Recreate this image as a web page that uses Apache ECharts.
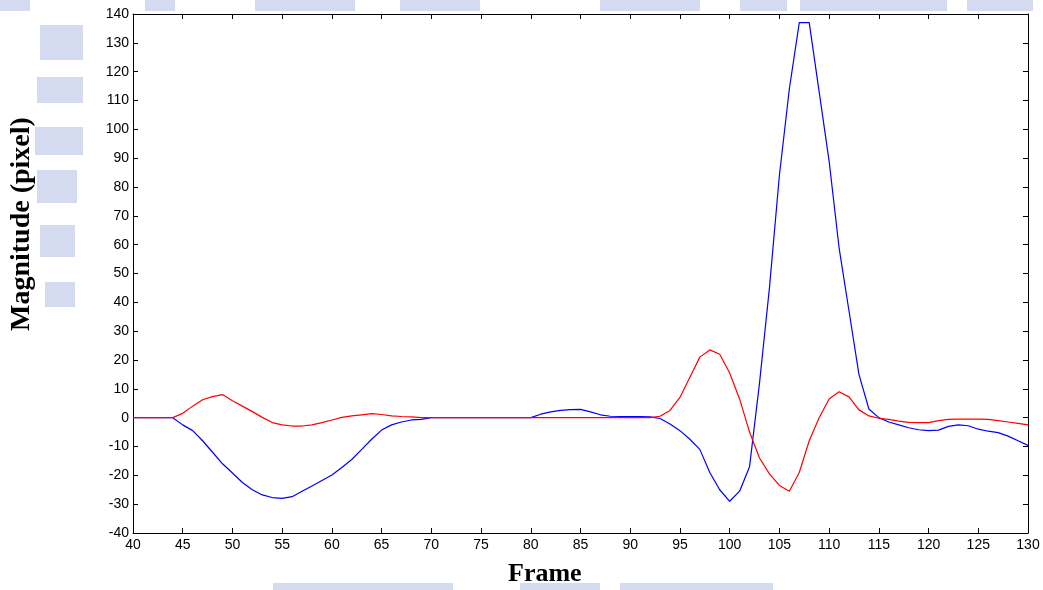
<!DOCTYPE html>
<html>
<head>
<meta charset="utf-8">
<script src="https://cdn.jsdelivr.net/npm/echarts@6/dist/echarts.min.js"></script>
<style>
html,body{margin:0;padding:0;background:#fff;}
#chart{width:1043px;height:590px;}
</style>
</head>
<body>
<div id="chart"></div>
<script>
const frames = [40,41,42,43,44,45,46,47,48,49,50,51,52,53,54,55,56,57,58,59,60,61,62,63,64,65,66,67,68,69,70,71,72,73,74,75,76,77,78,79,80,81,82,83,84,85,86,87,88,89,90,91,92,93,94,95,96,97,98,99,100,101,102,103,104,105,106,107,108,109,110,111,112,113,114,115,116,117,118,119,120,121,122,123,124,125,126,127,128,129,130];

const blueValues = [
  0,0,0,0,0,
  -2.5,-4.5,-8,-12,-16,
  -19.2,-22.5,-25,-26.8,-27.7,
  -28,-27.4,-25.5,-23.7,-21.8,
  -19.9,-17.3,-14.5,-11,-7.5,
  -4.3,-2.5,-1.5,-0.8,-0.6,
  0,0,0,0,0,
  0,0,0,0,0,
  0,1.2,2,2.5,2.8,
  2.9,2,1,0.5,0.4,
  0.4,0.4,0.3,-0.3,-2.2,
  -4.5,-7.5,-11,-19,-25,
  -29,-25.5,-17,12,45,
  84,114,137,137,113,
  89,59,37,15,3,
  0,-1.5,-2.5,-3.5,-4.2,
  -4.5,-4.3,-3,-2.5,-2.8,
  -4,-4.7,-5.2,-6.4,-8,
  -9.6
];

const redValues = [
  0,0,0,0,0,
  1.5,4,6.2,7.3,8,
  5.9,4,2.1,0.1,-1.7,
  -2.5,-2.9,-2.9,-2.5,-1.7,
  -0.8,0.1,0.6,1,1.4,
  1.1,0.6,0.4,0.3,0,
  0,0,0,0,0,
  0,0,0,0,0,
  0,0,0,0,0,
  0,0,0,0,0,
  0,0,0,0.5,2.5,
  7,14,21,23.5,22,
  15.5,6.5,-5,-14,-19.5,
  -23.5,-25.5,-19,-8,0,
  6.5,9,7.2,2.7,0.6,
  -0.2,-0.6,-1.2,-1.6,-1.7,
  -1.7,-1,-0.6,-0.5,-0.5,
  -0.5,-0.6,-1,-1.5,-2,
  -2.5
];

const xLabel = 'Frame';
const yLabel = 'Magnitude (pixel)';

const chart = echarts.init(document.getElementById('chart'), null, {renderer: 'canvas'});

const wm = '#b7c3e6';
function wmRect(x, y, w, h) {
  return {type: 'rect', z: -10, silent: true, shape: {x: x, y: y, width: w, height: h}, style: {fill: wm, opacity: 0.6}};
}

const axisCommon = {
  type: 'value',
  axisLine: {show: true, onZero: false, lineStyle: {color: '#000', width: 1}},
  axisTick: {show: true, inside: true, length: 5, lineStyle: {color: '#000'}},
  splitLine: {show: false},
  axisLabel: {color: '#000', fontFamily: 'Liberation Sans, Arial, sans-serif', fontSize: 14}
};

const option = {
  animation: false,
  backgroundColor: '#fff',
  grid: {left: 133, right: 15, top: 14, bottom: 57, show: true, backgroundColor: '#fff', borderWidth: 0},
  xAxis: [
    Object.assign({}, axisCommon, {min: 40, max: 130, interval: 5, position: 'bottom',
      axisLabel: Object.assign({}, axisCommon.axisLabel, {margin: 5, showMinLabel: true, showMaxLabel: true})}),
    Object.assign({}, axisCommon, {min: 40, max: 130, interval: 5, position: 'top',
      axisLabel: {show: false}})
  ],
  yAxis: [
    Object.assign({}, axisCommon, {min: -40, max: 140, interval: 10, position: 'left',
      axisLabel: Object.assign({}, axisCommon.axisLabel, {margin: 4, showMinLabel: true, showMaxLabel: true})}),
    Object.assign({}, axisCommon, {min: -40, max: 140, interval: 10, position: 'right',
      axisLabel: {show: false}})
  ],
  graphic: [
    wmRect(40, 25, 43, 35),
    wmRect(37, 77, 46, 26),
    wmRect(35, 127, 48, 28),
    wmRect(37, 170, 40, 33),
    wmRect(40, 225, 35, 32),
    wmRect(45, 282, 30, 25),
    wmRect(0, 0, 30, 11),
    wmRect(145, 0, 30, 11),
    wmRect(255, 0, 100, 11),
    wmRect(400, 0, 80, 11),
    wmRect(600, 0, 100, 11),
    wmRect(740, 0, 47, 11),
    wmRect(800, 0, 147, 11),
    wmRect(967, 0, 66, 11),
    wmRect(273, 583, 180, 7),
    wmRect(520, 583, 80, 7),
    wmRect(620, 583, 153, 7),
    {
      type: 'text', z: 10, left: 508, top: 561,
      style: {text: xLabel, font: 'bold 26px "Liberation Serif", "Times New Roman", serif', fill: '#000'}
    },
    {
      type: 'text', z: 10, x: 8, y: 331, rotation: Math.PI / 2,
      style: {text: yLabel, font: 'bold 28px "Liberation Serif", "Times New Roman", serif', fill: '#000', textVerticalAlign: 'top'}
    }
  ],
  series: [
    {
      name: 'blue', type: 'line', xAxisIndex: 0, yAxisIndex: 0,
      data: frames.map((f, i) => [f, blueValues[i]]),
      showSymbol: false, symbol: 'none',
      lineStyle: {color: '#0000ff', width: 1.2}, itemStyle: {color: '#0000ff'}
    },
    {
      name: 'red', type: 'line', xAxisIndex: 0, yAxisIndex: 0,
      data: frames.map((f, i) => [f, redValues[i]]),
      showSymbol: false, symbol: 'none',
      lineStyle: {color: '#ff0000', width: 1.2}, itemStyle: {color: '#ff0000'}
    }
  ]
};
chart.setOption(option);
</script>
</body>
</html>
